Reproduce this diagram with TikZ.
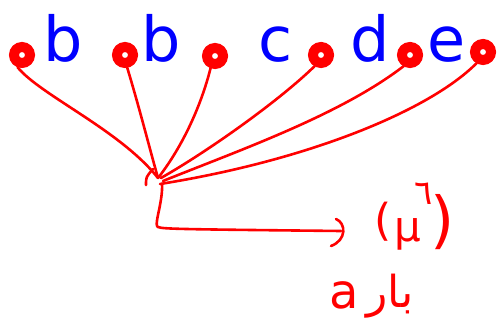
\documentclass[tikz,border=0pt]{standalone}
\usepackage{fontspec}
\newfontfamily\dv{DejaVu Sans}
\newfontfamily\arabicfont[Script=Arabic]{DejaVu Sans}
\TeXXeTstate=1
\begin{document}
\begin{tikzpicture}[x=1pt,y=-1pt,
  ink/.style={draw=red, line width=2.6pt, line cap=round, line join=round},
  dot/.style={circle, draw=red, fill=white, line width=10pt, minimum size=16pt, inner sep=0pt},
  letter/.style={text=blue, font=\dv\fontsize{62}{62}\selectfont, anchor=base, inner sep=0pt},
  redtext/.style={text=red, inner sep=0pt}]
\useasboundingbox (0,0) rectangle (497,326);

% scribbled dots
\node[dot] (d1) at (22,55) {};
\node[dot] (d2) at (125,55) {};
\node[dot] (d3) at (215,56) {};
\node[dot] (d4) at (321,55) {};
\node[dot] (d5) at (410,55) {};
\node[dot] (d6) at (483,52) {};

% letters between the dots
\node[letter] (lb1) at (63,62) {b};
\node[letter] (lb2) at (161,62) {b};
\node[letter] (lc) at (276,62) {c};
\node[letter] (ld) at (370,62) {d};
\node[letter] (le) at (447,62) {e};

% meeting point of the strokes
\coordinate (hub) at (158,178);
\coordinate (hubb) at (160,184);

\draw[ink] (d1.250) .. controls (40,95) and (120,130) .. (hub);
\draw[ink] (d2.-80) .. controls (140,110) and (150,150) .. (hub);
\draw[ink] (d3.-110) .. controls (200,110) and (180,150) .. (hub);
\draw[ink] (d4.-120) .. controls (280,100) and (210,150) .. ([xshift=3pt]hub);
\draw[ink] (d5.-120) .. controls (340,115) and (240,150) .. ([xshift=5pt,yshift=-3pt]hub);
\draw[ink] (d6.-120) .. controls (430,110) and (310,160) .. (hubb);
\draw[ink] (146,185) .. controls (146,177) .. (153,169);

% arrow to the result
\coordinate (tip) at (341,231);
\draw[ink] ([xshift=2pt]hubb) .. controls (163,200) and (155,222) .. (157,226)
  .. controls (159,229) .. (tip);
\draw[ink] (336,219) .. controls (346,223) and (347,240) .. (331,246);

% result
\node[redtext, font=\dv\fontsize{44}{44}\selectfont] (lp) at (383,222) {(};
\node[redtext, font=\dv\fontsize{42}{42}\selectfont] (mu) at (408,234) {μ};
\node[redtext, font=\arabicfont\fontsize{34}{34}\selectfont] (six) at (424,194) {٦};
\node[redtext, font=\dv\fontsize{62}{62}\selectfont] (rp) at (443,222) {)};

\node[redtext, font=\dv\fontsize{48}{48}\selectfont] (la) at (344,295) {a};
\node[redtext, font=\arabicfont\fontsize{44}{44}\selectfont] (word) at (390,296) {\beginR بار\endR};
\end{tikzpicture}
\end{document}
